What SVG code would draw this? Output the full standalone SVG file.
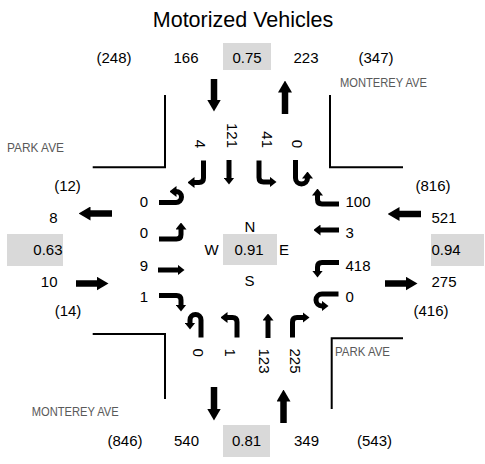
<svg xmlns="http://www.w3.org/2000/svg" width="485" height="464" viewBox="0 0 485 464">
<style>
text{font-family:"Liberation Sans",Arial,sans-serif;fill:#000}
.n{font-size:15px}
.c{text-anchor:middle}
.e{text-anchor:end}
.t{font-size:21.5px;text-anchor:middle}
.st{font-size:13px;fill:#595959}
.box{fill:#d9d9d9}
.curb{fill:none;stroke:#000;stroke-width:2}
.big{fill:none;stroke:#000;stroke-width:6.5;marker-end:url(#hb)}
.sm{fill:none;stroke:#000;stroke-width:5;marker-end:url(#hs)}
</style>
<defs>
<marker id="hb" markerUnits="userSpaceOnUse" markerWidth="12" markerHeight="14" viewBox="0 0 12 14" refX="0.5" refY="7" orient="auto"><path d="M0,0 L12,7 L0,14 z" fill="#000"/></marker>
<marker id="hs" markerUnits="userSpaceOnUse" markerWidth="7" markerHeight="11" viewBox="0 0 7 11" refX="0.5" refY="5.5" orient="auto"><path d="M0,0 L7,5.5 L0,11 z" fill="#000"/></marker>
</defs>
<rect width="485" height="464" fill="#fff"/>
<text class="t" x="243" y="27">Motorized Vehicles</text>

<g id="curbs">
<path class="curb" d="M92.7,167.3 H165 V95"/>
<path class="curb" d="M330,95 V167.3 H403"/>
<path class="curb" d="M92.7,334 H165 V399"/>
<path class="curb" d="M331.7,409 V338.3 H403"/>
</g>

<g id="streets">
<text class="st" x="340" y="87" textLength="87" lengthAdjust="spacingAndGlyphs">MONTEREY AVE</text>
<text class="st" x="7" y="152" textLength="57" lengthAdjust="spacingAndGlyphs">PARK AVE</text>
<text class="st" x="31.7" y="416" textLength="87" lengthAdjust="spacingAndGlyphs">MONTEREY AVE</text>
<text class="st" x="335" y="356" textLength="55" lengthAdjust="spacingAndGlyphs">PARK AVE</text>
</g>

<g id="north">
<text class="n c" x="114" y="63">(248)</text>
<text class="n c" x="186" y="63">166</text>
<rect class="box" x="223" y="43" width="48" height="27"/>
<text class="n c" x="247" y="63">0.75</text>
<text class="n c" x="306" y="63">223</text>
<text class="n c" x="376" y="63">(347)</text>
<text class="n e" transform="translate(195,148) rotate(90)">4</text>
<text class="n e" transform="translate(227,148) rotate(90)">121</text>
<text class="n e" transform="translate(262,148) rotate(90)">41</text>
<text class="n e" transform="translate(292,148) rotate(90)">0</text>
</g>

<g id="south">
<text class="n c" x="125" y="446">(846)</text>
<text class="n c" x="186.5" y="446">540</text>
<rect class="box" x="223" y="425" width="47" height="32"/>
<text class="n c" x="246.5" y="446">0.81</text>
<text class="n c" x="306.5" y="446">349</text>
<text class="n c" x="374.5" y="446">(543)</text>
<text class="n" transform="translate(193,348.5) rotate(90)">0</text>
<text class="n" transform="translate(225,348.5) rotate(90)">1</text>
<text class="n" transform="translate(259,348.5) rotate(90)">123</text>
<text class="n" transform="translate(290,348.5) rotate(90)">225</text>
</g>

<g id="west">
<text class="n c" x="67.5" y="191">(12)</text>
<text class="n e" x="57.5" y="223">8</text>
<rect class="box" x="7" y="234" width="56" height="32"/>
<text class="n e" x="62.5" y="255">0.63</text>
<text class="n e" x="57.5" y="287">10</text>
<text class="n c" x="68" y="316">(14)</text>
<text class="n e" x="148" y="206.5">0</text>
<text class="n e" x="148" y="238">0</text>
<text class="n e" x="148" y="270.5">9</text>
<text class="n e" x="148" y="301.5">1</text>
</g>

<g id="east">
<text class="n c" x="433" y="191">(816)</text>
<text class="n" x="431.5" y="223">521</text>
<rect class="box" x="431" y="234" width="53" height="32"/>
<text class="n" x="431.5" y="255">0.94</text>
<text class="n" x="431.5" y="287">275</text>
<text class="n c" x="431" y="316">(416)</text>
<text class="n" x="345.5" y="207">100</text>
<text class="n" x="345.5" y="238">3</text>
<text class="n" x="345.5" y="271">418</text>
<text class="n" x="345.5" y="302">0</text>
</g>

<g id="center">
<text class="n c" x="250" y="232">N</text>
<text class="n c" x="211.5" y="255">W</text>
<rect class="box" x="223" y="234" width="54" height="31"/>
<text class="n c" x="249" y="255">0.91</text>
<text class="n" x="279" y="255">E</text>
<text class="n c" x="249.5" y="286">S</text>
</g>

<g id="connectors">
<path class="big" d="M214,79 V100"/>
<path class="big" d="M285,114 V92"/>
<path class="big" d="M214,387 V409"/>
<path class="big" d="M283.5,423 V401"/>
<path class="big" d="M112,213.5 H90"/>
<path class="big" d="M76,283.5 H97"/>
<path class="big" d="M421,214 H399"/>
<path class="big" d="M385,283.5 H406"/>

<path class="sm" d="M203.5,160.5 V178 Q203.5,182.5 199,182.5 H194"/>
<path class="sm" d="M229,160 V178"/>
<path class="sm" d="M259,160.5 V177.5 Q259,182 263.5,182 H270"/>
<path class="sm" d="M295.5,160 V178 A6,6 0 0 0 307.5,178"/>

<path class="sm" d="M339,204 H322 Q317.5,204 317.5,199.5 V195"/>
<path class="sm" d="M339,230 H320"/>
<path class="sm" d="M339,262.5 H322 Q317.5,262.5 317.5,267 V271"/>
<path class="sm" d="M338.5,294 H322 A6,6 0 0 0 322,306"/>

<path class="sm" d="M201,337.5 V320 A5.5,5.5 0 0 0 190,320 V323"/>
<path class="sm" d="M237,337.5 V322 Q237,317.5 232.5,317.5 H227"/>
<path class="sm" d="M268,338 V320"/>
<path class="sm" d="M292.5,337.5 V322 Q292.5,317.5 297,317.5 H303"/>

<path class="sm" d="M159,202.5 H176 A5.5,5.5 0 0 0 176,191.5"/>
<path class="sm" d="M159,239 H176.5 Q181,239 181,234.5 V229"/>
<path class="sm" d="M158,270 H178"/>
<path class="sm" d="M159,295.5 H176.5 Q181,295.5 181,300 V305"/>
</g>
</svg>
